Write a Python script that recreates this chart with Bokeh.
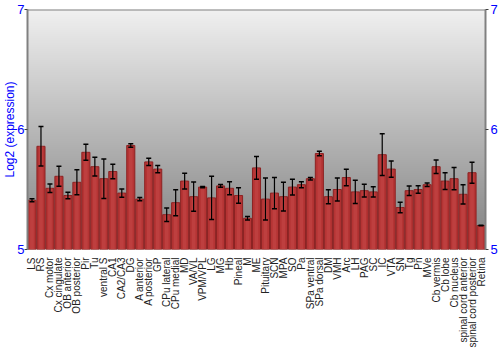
import numpy as np
from bokeh.plotting import figure
from bokeh.models import FixedTicker, Span, Whisker, ColumnDataSource, LinearAxis, Range1d
from bokeh.embed import file_html
from bokeh.resources import INLINE

labels = ["LS", "RS", "Cx motor", "Cx cingulate", "OB anterior", "OB posterior", "Pir", "Tu",
          "ventral S", "CA1", "CA2/CA3", "DG", "A anterior", "A posterior", "GP", "CPu lateral",
          "CPu medial", "MD", "VA/VL", "VPM/VPL", "LG", "MG", "Hb", "Pineal", "M", "ME",
          "Pituitary", "SCN", "MPA", "SO", "Pa", "SPa ventral", "SPa dorsal", "DM", "VMH", "Arc",
          "LH", "PAG", "SC", "IC", "VTA", "SN", "Tg", "Pn", "MVe", "Cb vermis", "Cb lobe",
          "Cb nucleus", "spinal cord anterior", "spinal cord posterior", "Retina"]

values = [5.41, 5.86, 5.51, 5.61, 5.45, 5.56, 5.81, 5.69, 5.59, 5.65, 5.47, 5.867, 5.42, 5.73,
          5.67, 5.29, 5.39, 5.57, 5.44, 5.52, 5.43, 5.53, 5.51, 5.45, 5.26, 5.68, 5.42, 5.47,
          5.44, 5.52, 5.54, 5.59, 5.80, 5.44, 5.50, 5.60, 5.48, 5.49, 5.48, 5.79, 5.67, 5.35,
          5.49, 5.50, 5.54, 5.69, 5.57, 5.59, 5.46, 5.64, 5.20]

errors = [0.012, 0.165, 0.036, 0.083, 0.028, 0.104, 0.067, 0.078, 0.165, 0.061, 0.035, 0.014,
          0.014, 0.030, 0.030, 0.056, 0.108, 0.065, 0.122, 0.005, 0.180, 0.012, 0.054, 0.065,
          0.015, 0.094, 0.175, 0.130, 0.120, 0.065, 0.025, 0.011, 0.019, 0.058, 0.096, 0.068,
          0.097, 0.053, 0.042, 0.174, 0.068, 0.043, 0.039, 0.032, 0.014, 0.056, 0.070, 0.093,
          0.080, 0.088, 0.003]

y_ticks = [5, 6, 7]
y_label = "Log2 (expression)"

src = ColumnDataSource(dict(
    x=labels, top=values,
    upper=[v + e for v, e in zip(values, errors)],
    lower=[v - e for v, e in zip(values, errors)],
))

p = figure(width=500, height=350, x_range=labels, y_range=Range1d(5, 7),
           output_backend="svg", toolbar_location=None,
           min_border_left=20, min_border_right=10, min_border_top=9, min_border_bottom=10)
p.background_fill_color = "white"
p.border_fill_color = "white"
p.outline_line_color = None
p.grid.visible = False

# vertical gray gradient background
n = 240
top_c, bot_c = 240, 128
rows = []
for i in range(n):
    g = int(round(bot_c + (top_c - bot_c) * i / (n - 1)))
    rows.append([(255 << 24) | (g << 16) | (g << 8) | g])
img = np.array(rows, dtype=np.uint32)
p.image_rgba(image=[img], x=0, y=5, dw=len(labels), dh=2)

p.add_layout(Span(location=6, dimension="width", line_color="white", line_width=2, level="underlay"))
p.add_layout(Span(location=7, dimension="width", line_color="#808080", line_width=2))

p.vbar(x="x", top="top", bottom=5, width=0.9, source=src,
       fill_color="#b53434", line_color="#8c2222", line_width=1)
p.vbar(x="x", top="top", bottom=5, width=0.4, source=src,
       fill_color="#c44848", line_color=None, fill_alpha=0.6)

w = Whisker(base="x", upper="upper", lower="lower", source=src,
            line_color="black", line_width=1.2, level="annotation")
w.upper_head.size = 5
w.lower_head.size = 5
w.upper_head.line_color = "black"
w.lower_head.line_color = "black"
w.upper_head.line_width = 1.5
w.lower_head.line_width = 1.5
p.add_layout(w)

font = "Liberation Sans"
ax = p.yaxis[0]
ax.ticker = FixedTicker(ticks=y_ticks)
ax.axis_label = y_label
ax.axis_label_text_color = "blue"
ax.axis_label_text_font = font
ax.axis_label_text_font_size = "12px"
ax.axis_label_text_font_style = "normal"
ax.axis_label_standoff = -3
ax.major_label_text_color = "blue"
ax.major_label_text_font = font
ax.major_label_text_font_size = "13px"
ax.major_label_standoff = 0
ax.axis_line_color = "#808080"
ax.axis_line_width = 2
ax.major_tick_line_color = "#404040"
ax.major_tick_out = 3
ax.major_tick_in = 0
ax.minor_tick_line_color = None

rax = LinearAxis(ticker=FixedTicker(ticks=y_ticks))
rax.major_label_text_color = "blue"
rax.major_label_text_font = font
rax.major_label_text_font_size = "13px"
rax.major_label_standoff = 2
rax.axis_line_color = "#808080"
rax.axis_line_width = 2
rax.major_tick_line_color = "#404040"
rax.major_tick_out = 3
rax.major_tick_in = 0
rax.minor_tick_line_color = None
p.add_layout(rax, "right")

xa = p.xaxis[0]
xa.major_label_orientation = np.pi / 2
xa.major_label_text_font = font
xa.major_label_text_font_size = "10px"
xa.major_label_text_color = "#222222"
xa.major_label_standoff = 2
xa.axis_line_color = None
xa.major_tick_line_color = None
xa.minor_tick_line_color = None

open("out.html", "w").write(file_html(p, INLINE))
